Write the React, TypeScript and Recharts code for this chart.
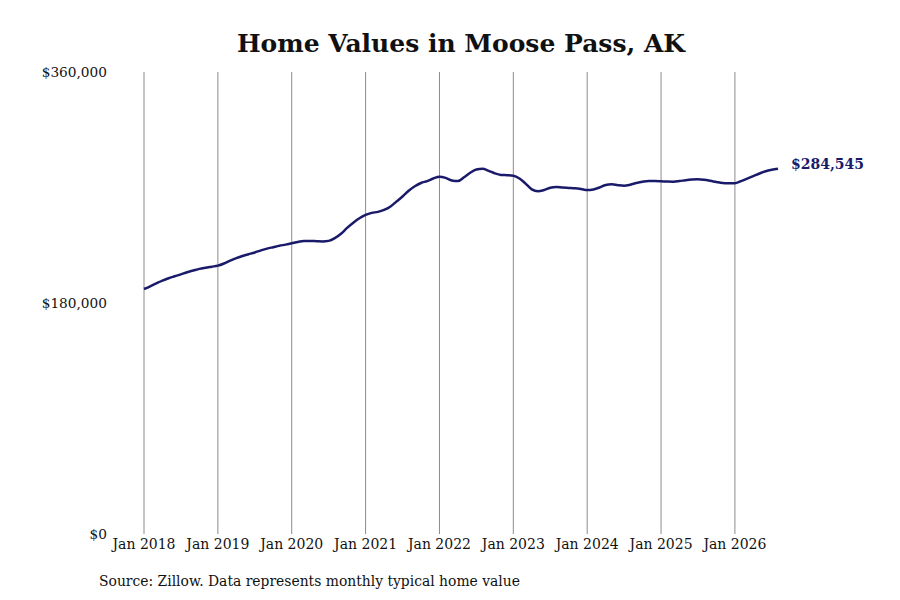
import { LineChart, Line, XAxis, YAxis, ReferenceLine } from 'recharts';

// months since Jan 2018
const months: number[] = Array.from({ length: 104 }, (_, i) => i);

const homeValues: number[] = [
  190900, 193000, 195300, 197500, 199300, 200800, 202300, 204000, 205300, 206600, 207500, 208300,
  209100, 210800, 213000, 215000, 216600, 218000, 219400, 221000, 222400, 223500, 224600, 225500,
  226500, 227600, 228300, 228400, 228200, 228000, 228400, 230500, 234000, 238500, 242500, 246000,
  248600, 250200, 251000, 252500, 255000, 259000, 263000, 267500, 271000, 273500, 275000, 277000,
  278400, 277500, 275500, 275000, 278000, 281500, 284000, 284600, 283000, 281000, 279800, 279600,
  279200, 277000, 273000, 268500, 267000, 268000, 269800, 270400, 270000, 269700, 269400, 268800,
  268000, 268500, 270000, 272000, 272500, 271800, 271400, 272200, 273500, 274500, 275100, 275100,
  274900, 274600, 274500, 275000, 275700, 276200, 276400, 276000, 275200, 274300, 273500, 273300,
  273300, 275000, 276900, 278900, 280900, 282700, 283800, 284545,
];

const xTicks = [0, 12, 24, 36, 48, 60, 72, 84, 96];
const yTicks = [0, 180000, 360000];

const data = months.map((m, i) => ({ m, value: homeValues[i] }));

const FONT = '"DejaVu Serif", serif';
const NAVY = '#1a1a6b';

const money = (v: number) => '$' + v.toLocaleString('en-US');

function EndLabel(props: any) {
  const { x, y, index } = props;
  if (index !== data.length - 1) return null;
  return (
    <text x={x + 13} y={y - 4} fill={NAVY} fontFamily={FONT} fontSize={14} fontWeight="bold" dominantBaseline="middle">
      {money(homeValues[homeValues.length - 1])}
    </text>
  );
}

export default function App() {
  return (
    <div style={{ position: 'absolute', left: 0, top: 0, width: 900, height: 600, background: '#fff' }}>
      <div
        style={{
          position: 'absolute', left: 144, width: 634, top: 27, textAlign: 'center',
          fontFamily: FONT, fontWeight: 'bold', fontSize: 25, color: '#111', lineHeight: '34px',
        }}
      >
        Home Values in Moose Pass, AK
      </div>
      <LineChart width={900} height={600} data={data} margin={{ top: 72, right: 122, left: 44, bottom: 36 }}>
        {xTicks.map((t) => (
          <ReferenceLine key={t} x={t} stroke="#8c8c8c" strokeWidth={1} />
        ))}
        <XAxis
          dataKey="m"
          type="number"
          domain={[0, 103]}
          ticks={xTicks}
          interval={0}
          axisLine={false}
          tickLine={false}
          tickSize={0}
          tickMargin={5}
          height={30}
          tickFormatter={(m: number) => `Jan ${2018 + m / 12}`}
          tick={{ fill: '#111', fontFamily: FONT, fontSize: 14 }}
        />
        <YAxis
          domain={[0, 360000]}
          ticks={yTicks}
          interval={0}
          axisLine={false}
          tickLine={false}
          tickSize={0}
          tickMargin={37}
          width={100}
          tickFormatter={money}
          tick={{ fill: '#111', fontFamily: FONT, fontSize: 13.7 }}
        />
        <Line
          type="monotone"
          dataKey="value"
          stroke={NAVY}
          strokeWidth={2.5}
          dot={false}
          isAnimationActive={false}
          label={<EndLabel />}
        />
      </LineChart>
      <div
        style={{
          position: 'absolute', left: 99, top: 572, fontFamily: FONT, fontSize: 13.9,
          color: '#111', lineHeight: '18px', whiteSpace: 'nowrap',
        }}
      >
        Source: Zillow. Data represents monthly typical home value
      </div>
    </div>
  );
}
